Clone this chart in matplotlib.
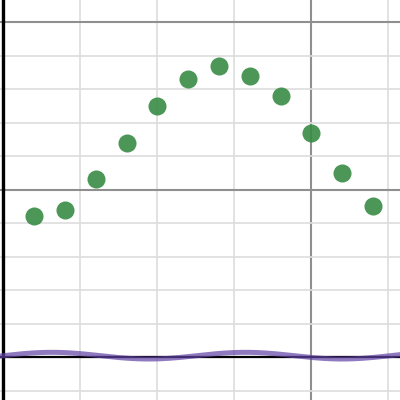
import matplotlib
matplotlib.use("Agg")
import matplotlib.pyplot as plt
from matplotlib.ticker import MultipleLocator, NullFormatter
import numpy as np

# points
xs = [0.2, 0.4, 0.6, 0.8, 1.0, 1.2, 1.4, 1.6, 1.8, 2.0, 2.2, 2.4]
ys = [4.2, 4.4, 5.3, 6.4, 7.5, 8.3, 8.7, 8.4, 7.8, 6.7, 5.5, 4.5]

# the wavy curve along the x axis: y = amp * sin(freq * x) + shift
amp = 0.1
freq = 5.0
shift = 0.04

fig = plt.figure(figsize=(4, 4), dpi=100)
ax = fig.add_axes([0, 0, 1, 1])

ax.set_xlim(-3.5 / 154, 396.5 / 154)
ax.set_ylim(-43 / 33.5, 357 / 33.5)

ax.xaxis.set_major_locator(MultipleLocator(2))
ax.xaxis.set_minor_locator(MultipleLocator(0.5))
ax.yaxis.set_major_locator(MultipleLocator(5))
ax.yaxis.set_minor_locator(MultipleLocator(1))
ax.grid(which="minor", color="#dddddd", lw=1.2, zorder=0)
ax.grid(which="major", color="#8f8f8f", lw=1.5, zorder=0)
ax.tick_params(which="both", length=0)
ax.xaxis.set_major_formatter(NullFormatter())
ax.yaxis.set_major_formatter(NullFormatter())
for s in ax.spines.values():
    s.set_visible(False)
ax.set_axisbelow(True)

ax.axhline(0, color="black", lw=1.6, zorder=2)
ax.axvline(0, color="black", lw=2.4, zorder=2)

cx = np.linspace(-0.1, 2.7, 400)
ax.plot(cx, amp * np.sin(freq * cx) + shift, color="#6042a6", lw=3.6, alpha=0.7,
        solid_capstyle="round", zorder=3)

ax.plot(xs, ys, "o", color="#388c46", alpha=0.9, ms=13, mew=0, zorder=4)

fig.savefig("out.png", dpi=100)
